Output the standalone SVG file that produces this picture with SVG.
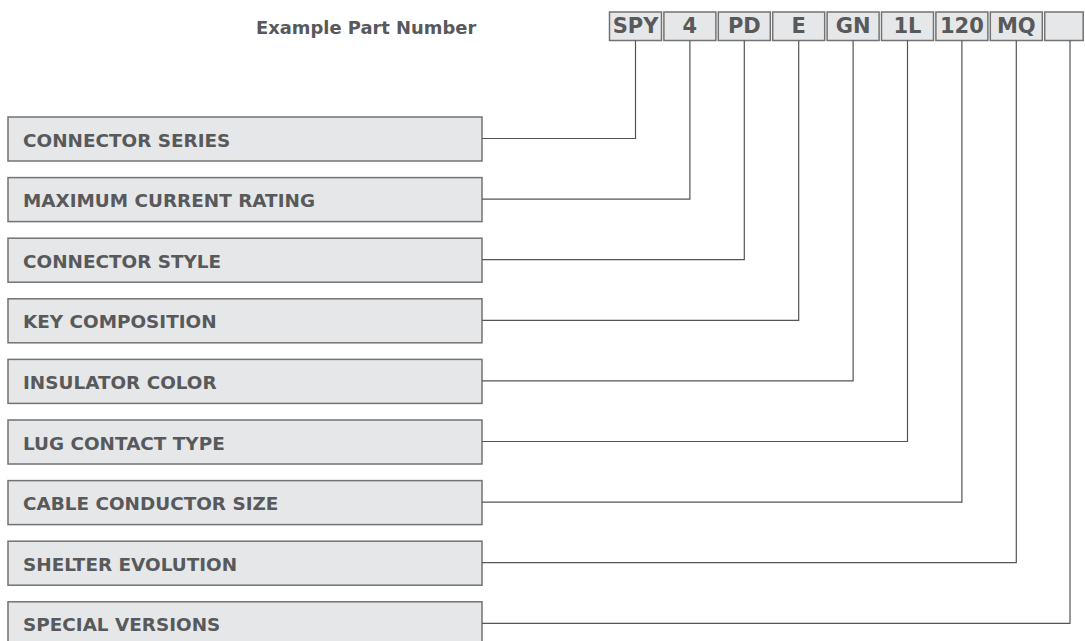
<svg xmlns="http://www.w3.org/2000/svg" width="1085" height="641" viewBox="0 0 1085 641">
<style>
.bg{fill:#ffffff}
.lbl rect{fill:#e6e7e9;stroke:#737373;stroke-width:1.5}
.lbl text{font-family:"DejaVu Sans","Verdana",sans-serif;font-weight:bold;font-size:18.4px;fill:#58595b}
.pn rect{fill:#e6e7e9;stroke:#737373;stroke-width:1.5}
.pn text{font-family:"DejaVu Sans","Verdana",sans-serif;font-weight:bold;font-size:21px;fill:#58595b;text-anchor:middle}
.title{font-family:"DejaVu Sans","Verdana",sans-serif;font-weight:bold;font-size:17.9px;fill:#58595b}
#connectors path{fill:none;stroke:#555555;stroke-width:1.2}
</style>
<rect class="bg" x="0" y="0" width="1085" height="641"/>
<text class="title" x="256" y="34">Example Part Number</text>

<g id="pn-spy" class="pn"><rect x="609.5" y="12" width="52" height="28.5"/><text x="635.5" y="33.3">SPY</text></g>
<g id="pn-4" class="pn"><rect x="663.9" y="12" width="52" height="28.5"/><text x="689.9" y="33.3">4</text></g>
<g id="pn-pd" class="pn"><rect x="718.3" y="12" width="52" height="28.5"/><text x="744.3" y="33.3">PD</text></g>
<g id="pn-e" class="pn"><rect x="772.7" y="12" width="52" height="28.5"/><text x="798.7" y="33.3">E</text></g>
<g id="pn-gn" class="pn"><rect x="827.1" y="12" width="52" height="28.5"/><text x="853.1" y="33.3">GN</text></g>
<g id="pn-1l" class="pn"><rect x="881.5" y="12" width="52" height="28.5"/><text x="907.5" y="33.3">1L</text></g>
<g id="pn-120" class="pn"><rect x="935.9" y="12" width="52" height="28.5"/><text x="961.9" y="33.3">120</text></g>
<g id="pn-mq" class="pn"><rect x="990.3" y="12" width="52" height="28.5"/><text x="1016.3" y="33.3">MQ</text></g>
<g id="pn-blank" class="pn"><rect x="1044.7" y="12" width="38.5" height="28.5"/></g>

<g id="lbl-series" class="lbl"><rect x="8" y="117" width="474" height="44"/><text x="23" y="146.5">CONNECTOR SERIES</text></g>
<g id="lbl-current" class="lbl"><rect x="8" y="177.6" width="474" height="44"/><text x="23" y="207.1">MAXIMUM CURRENT RATING</text></g>
<g id="lbl-style" class="lbl"><rect x="8" y="238.2" width="474" height="44"/><text x="23" y="267.7">CONNECTOR STYLE</text></g>
<g id="lbl-key" class="lbl"><rect x="8" y="298.8" width="474" height="44"/><text x="23" y="328.3">KEY COMPOSITION</text></g>
<g id="lbl-color" class="lbl"><rect x="8" y="359.4" width="474" height="44"/><text x="23" y="388.9">INSULATOR COLOR</text></g>
<g id="lbl-lug" class="lbl"><rect x="8" y="420" width="474" height="44"/><text x="23" y="449.5">LUG CONTACT TYPE</text></g>
<g id="lbl-cable" class="lbl"><rect x="8" y="480.6" width="474" height="44"/><text x="23" y="510.1">CABLE CONDUCTOR SIZE</text></g>
<g id="lbl-shelter" class="lbl"><rect x="8" y="541.2" width="474" height="44"/><text x="23" y="570.7">SHELTER EVOLUTION</text></g>
<g id="lbl-special" class="lbl"><rect x="8" y="601.8" width="474" height="44"/><text x="23" y="631.3">SPECIAL VERSIONS</text></g>

<g id="connectors">
<path d="M482 138.5 H635.5 V40.5"/>
<path d="M482 199.1 H689.9 V40.5"/>
<path d="M482 259.7 H744.3 V40.5"/>
<path d="M482 320.3 H798.7 V40.5"/>
<path d="M482 380.9 H853.1 V40.5"/>
<path d="M482 441.5 H907.5 V40.5"/>
<path d="M482 502.1 H961.9 V40.5"/>
<path d="M482 562.7 H1016.3 V40.5"/>
<path d="M482 623.3 H1070 V40.5"/>
</g>
</svg>
